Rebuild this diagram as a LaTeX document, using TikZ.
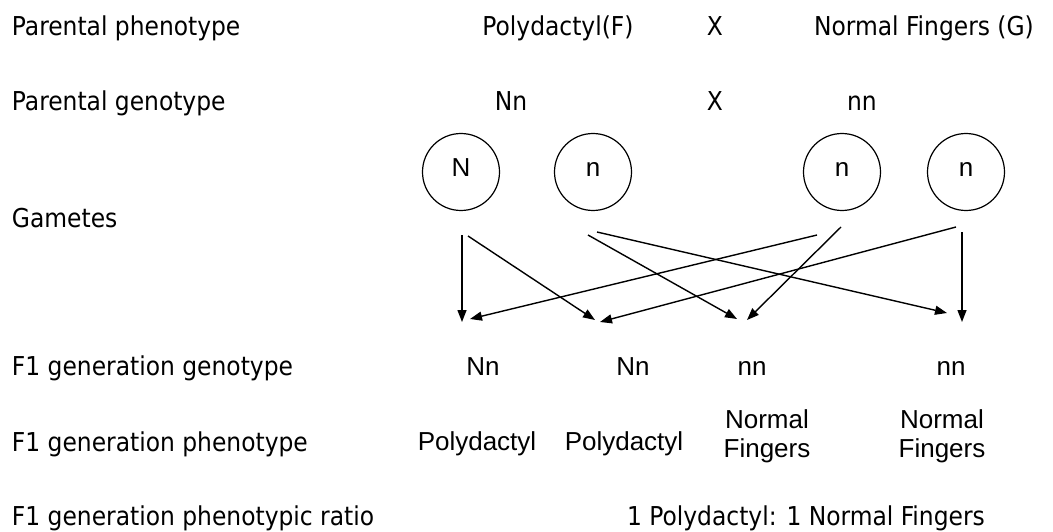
\documentclass[tikz,border=0pt]{standalone}
\usepackage{fontspec}
\setmainfont{DejaVu Sans Condensed}
\newfontfamily\arialfont{Liberation Sans}
\usetikzlibrary{arrows.meta,calc}

\begin{document}
\begin{tikzpicture}[x=1pt,y=-1pt,
  every node/.style={inner sep=0pt, outer sep=0pt},
  rowlabel/.style={anchor=base west, font=\fontsize{26}{30}\selectfont},
  toptext/.style={anchor=base, font=\fontsize{26}{30}\selectfont},
  f1text/.style={anchor=base, font=\arialfont\fontsize{26}{29}\selectfont, align=center},
  gamete/.style={circle, draw, line width=1.2pt, minimum size=77pt,
    font=\arialfont\fontsize{26}{30}\selectfont, text height=18pt, text depth=8pt},
  cross/.style={-{Triangle[length=12pt,width=9pt]}, line width=1.4pt}]

\useasboundingbox (0,0) rectangle (1053,532);

% row labels
\node[rowlabel] (lab1) at (12,36)  {Parental phenotype};
\node[rowlabel] (lab2) at (12,111) {Parental genotype};
\node[rowlabel] (lab3) at (12,227) {Gametes};
\node[rowlabel] (lab4) at (12,375) {F1 generation genotype};
\node[rowlabel] (lab5) at (12,451) {F1 generation phenotype};
\node[rowlabel] (lab6) at (12,525) {F1 generation phenotypic ratio};

% parents
\node[toptext] (pheF) at (558,36) {Polydactyl(F)};
\node[toptext] (crossA) at (715,36) {X};
\node[toptext] (pheG) at (924,36) {Normal Fingers (G)};
\node[toptext] (genF) at (511,111) {Nn};
\node[toptext] (crossB) at (715,111) {X};
\node[toptext] (genG) at (862,111) {nn};

% gametes
\node[gamete] (g1) at (461,172) {N};
\node[gamete] (g2) at (593,172) {n};
\node[gamete] (g3) at (842,172) {n};
\node[gamete] (g4) at (966,172) {n};

% offspring genotypes and phenotypes
\node[f1text] (o1) at (483,375) {Nn};
\node[f1text] (o2) at (633,375) {Nn};
\node[f1text] (o3) at (752,375) {nn};
\node[f1text] (o4) at (951,375) {nn};
\node[f1text] (p1) at (477,450) {Polydactyl};
\node[f1text] (p2) at (624,450) {Polydactyl};
\node[f1text] (p3) at (767,457) {Normal\\Fingers};
\node[f1text] (p4) at (942,457) {Normal\\Fingers};

\node[toptext] (ratio) at (806,525) {1 Polydactyl: 1 Normal Fingers};

% arrow ends below the gametes
\coordinate (s1a) at ($(g1.south)+(1,24.5)$);
\coordinate (s1b) at ($(g1.south)+(7,25.5)$);
\coordinate (s2a) at ($(g2.south)+(-5,24.5)$);
\coordinate (s2b) at ($(g2.south)+(4,21.5)$);
\coordinate (s3a) at ($(g3.south)+(-25,24.5)$);
\coordinate (s3b) at ($(g3.south)+(-1,16.5)$);
\coordinate (s4a) at ($(g4.south)+(-10,16.5)$);
\coordinate (s4b) at ($(g4.south)+(-4,21.5)$);

% arrow tips above the offspring genotypes
\coordinate (t1a) at (462,322);
\coordinate (t1b) at (470,319);
\coordinate (t2a) at (595,320);
\coordinate (t2b) at (600,322);
\coordinate (t3a) at (737,319);
\coordinate (t3b) at (747,320);
\coordinate (t4a) at (947,313);
\coordinate (t4b) at (962,322);

\draw[cross] (s1a) -- (t1a);
\draw[cross] (s1b) -- (t2a);
\draw[cross] (s2a) -- (t3a);
\draw[cross] (s2b) -- (t4a);
\draw[cross] (s3a) -- (t1b);
\draw[cross] (s3b) -- (t3b);
\draw[cross] (s4a) -- (t2b);
\draw[cross] (s4b) -- (t4b);
\end{tikzpicture}
\end{document}
